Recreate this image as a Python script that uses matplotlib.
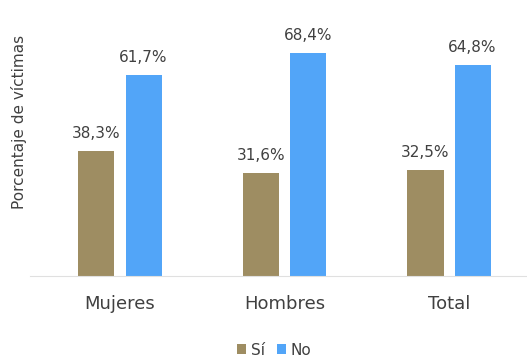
import numpy as np
import matplotlib
matplotlib.use("Agg")
import matplotlib.pyplot as plt

# datos
categorias = ["Mujeres", "Hombres", "Total"]
si_vals = [38.3, 31.6, 32.5]
no_vals = [61.7, 68.4, 64.8]

plt.rcParams['font.family'] = ['DejaVu Sans']

fig = plt.figure(figsize=(5.27, 3.58), dpi=100)
ax = fig.add_axes([30 / 527, 82 / 358, 497 / 527, 261 / 358])

x = np.arange(len(categorias))
w = 0.219
off = 0.143
b1 = ax.bar(x - off, si_vals, w, color="#9E8D62", label="Sí")
b2 = ax.bar(x + off, no_vals, w, color="#52A5F8", label="No")

# etiquetas de valor
for bars, vals in [(b1, si_vals), (b2, no_vals)]:
    for r, v in zip(bars, vals):
        ax.annotate(f"{v:.1f}%".replace(".", ","),
                    (r.get_x() + r.get_width() / 2, r.get_height()),
                    xytext=(0, 7), textcoords="offset points",
                    ha="center", va="bottom", fontsize=11, color="#404040")

ax.set_xlim(-0.547, 2.474)
ax.set_ylim(0, 80)
ax.set_xticks(x)
ax.set_xticklabels(categorias, fontsize=13, color="#404040")
ax.tick_params(axis="x", length=0, pad=14)
ax.set_yticks([])
for s in ["top", "right", "left"]:
    ax.spines[s].set_visible(False)
ax.spines["bottom"].set_color("#e0e0e0")
ax.set_ylabel("Porcentaje de víctimas", fontsize=11, color="#404040")
ax.yaxis.set_label_coords(-0.006, 0.59)

ax.legend(loc="center", bbox_to_anchor=(0.491, -0.284), ncol=2, frameon=False,
          fontsize=11, handlelength=0.6, handleheight=0.6, handletextpad=0.3,
          columnspacing=0.8, labelcolor="#404040")

fig.savefig("out.png", dpi=100)
